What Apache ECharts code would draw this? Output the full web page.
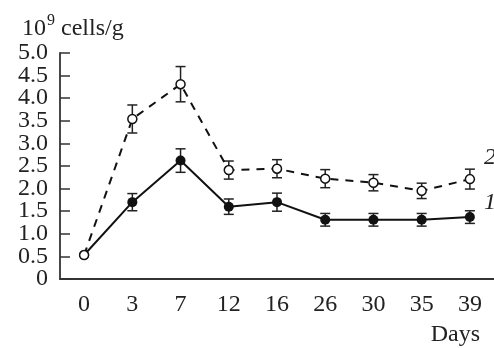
<!DOCTYPE html>
<html><head><meta charset="utf-8">
<script src="https://cdn.jsdelivr.net/npm/echarts@6/dist/echarts.min.js"></script>
<style>html,body{margin:0;padding:0;background:#fff}#c{width:494px;height:348px}</style>
</head><body><div id="c"></div>
<script>
const categories = ['0','3','7','12','16','26','30','35','39'];
const series1 = [0.53, 1.70, 2.62, 1.60, 1.70, 1.31, 1.31, 1.31, 1.37];
const series1Err = [0, 0.19, 0.26, 0.17, 0.20, 0.14, 0.14, 0.14, 0.14];
const series2 = [0.53, 3.54, 4.31, 2.41, 2.44, 2.22, 2.13, 1.95, 2.21];
const series2Err = [0, 0.31, 0.39, 0.20, 0.20, 0.20, 0.18, 0.17, 0.22];
const yTicks = ['0','0.5','1.0','1.5','2.0','2.5','3.0','3.5','4.0','4.5','5.0'];

const FONT = '"Liberation Serif", "DejaVu Serif", serif';
const INK = '#222';

function errData(vals, errs) {
  return vals.map((v, i) => [i, v - errs[i], v + errs[i], errs[i]]);
}
function errRender(params, api) {
  if (api.value(3) <= 0) return null;
  const lo = api.coord([api.value(0), api.value(1)]);
  const hi = api.coord([api.value(0), api.value(2)]);
  const w = 5;
  const st = { stroke: INK, lineWidth: 1.5 };
  return { type: 'group', children: [
    { type: 'line', shape: { x1: lo[0], y1: lo[1], x2: hi[0], y2: hi[1] }, style: st },
    { type: 'line', shape: { x1: lo[0]-w, y1: lo[1], x2: lo[0]+w, y2: lo[1] }, style: st },
    { type: 'line', shape: { x1: hi[0]-w, y1: hi[1], x2: hi[0]+w, y2: hi[1] }, style: st }
  ]};
}
const yLabel = v => yTicks[Math.round(v / 0.5)];
const yLabelStyle = { fontFamily: FONT, fontSize: 24, color: INK, margin: 12, hideOverlap: false };

const chart = echarts.init(document.getElementById('c'), null, { renderer: 'canvas' });
chart.setOption({
  animation: false,
  backgroundColor: '#fff',
  textStyle: { fontFamily: FONT, color: INK },
  title: [
    { text: '{a|10}{b|9}{a| cells/g}', left: 17, top: 8,
      textStyle: { fontWeight: 'normal', rich: {
        a: { fontFamily: FONT, fontSize: 24, fontWeight: 'normal', color: INK, verticalAlign: 'bottom', lineHeight: 28 },
        b: { fontFamily: FONT, fontSize: 16, fontWeight: 'normal', color: INK, verticalAlign: 'top', lineHeight: 28, padding: [0,0,10,1] }
      } } },
    { text: 'Days', right: 9, top: 318, textStyle: { fontFamily: FONT, fontSize: 24, fontWeight: 'normal', color: INK } }
  ],
  grid: { left: 60, top: 53, width: 437, height: 226 },
  xAxis: {
    type: 'category', data: categories, boundaryGap: true,
    axisLine: { lineStyle: { color: '#333', width: 1.8 } },
    axisTick: { inside: true, length: 10, lineStyle: { color: '#333', width: 1.5 } },
    axisLabel: { fontFamily: FONT, fontSize: 24, color: INK, margin: 14, interval: 0, hideOverlap: false },
    splitLine: { show: false }
  },
  yAxis: [
    {
      type: 'value', min: 0, max: 5, interval: 1, position: 'left',
      axisLine: { show: true, lineStyle: { color: '#333', width: 1.8 } },
      axisTick: { show: true, inside: true, length: 10, lineStyle: { color: '#333', width: 1.5 } },
      axisLabel: Object.assign({ showMinLabel: true, showMaxLabel: true, formatter: yLabel }, yLabelStyle),
      splitLine: { show: false }
    },
    {
      type: 'value', min: 0, max: 5, interval: 0.5, position: 'left', offset: 0,
      axisLine: { show: false },
      axisTick: { show: true, inside: true, length: 10, lineStyle: { color: '#333', width: 1.5 } },
      axisLabel: Object.assign({ showMinLabel: false, showMaxLabel: false,
        formatter: v => (Math.round(v * 2) % 2 === 1 ? yLabel(v) : '') }, yLabelStyle),
      splitLine: { show: false }
    }
  ],
  series: [
    { type: 'custom', renderItem: errRender, data: errData(series1, series1Err), z: 1, silent: true },
    { type: 'custom', renderItem: errRender, data: errData(series2, series2Err), z: 1, silent: true },
    { name: '1', type: 'line', data: series1, z: 3,
      symbol: 'circle', symbolSize: 10,
      lineStyle: { color: '#111', width: 2 },
      itemStyle: { color: '#111', borderColor: '#111', borderWidth: 0 },
      endLabel: { show: true, formatter: '1', fontFamily: FONT, fontStyle: 'italic', fontSize: 24, color: INK, offset: [6, -14] }
    },
    { name: '2', type: 'line', data: series2, z: 4,
      symbol: 'circle', symbolSize: 9,
      lineStyle: { color: '#111', width: 2, type: [8, 7] },
      itemStyle: { color: '#fff', borderColor: '#111', borderWidth: 1.5 },
      endLabel: { show: true, formatter: '2', fontFamily: FONT, fontStyle: 'italic', fontSize: 24, color: INK, offset: [6, -21] }
    }
  ]
});
</script></body></html>
